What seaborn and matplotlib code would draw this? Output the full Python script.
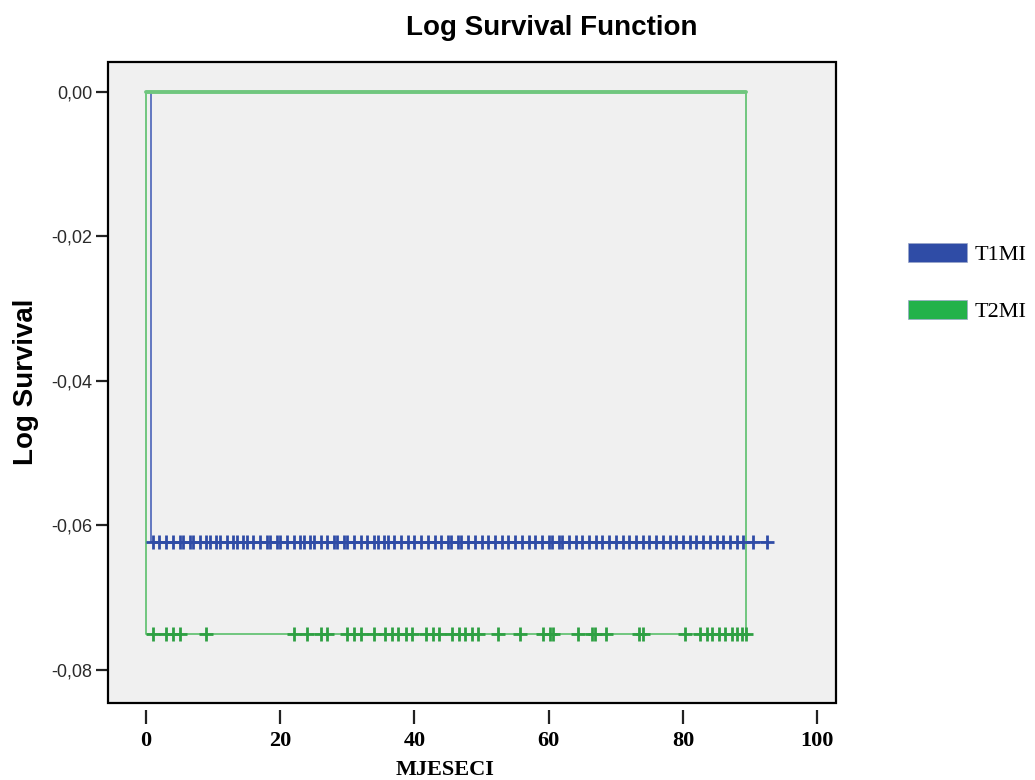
import matplotlib
matplotlib.use("Agg")
import matplotlib.pyplot as plt
from matplotlib.patches import Patch, Rectangle
import seaborn as sns
import pandas as pd

# survival data
groups = ["T1MI", "T2MI"]
group_colors = ["#2f4ca6", "#23b24a"]
line_colors = ["#4a63b8", "#70c67e"]
mark_colors = ["#2f4ca6", "#2ea043"]

t1_drop_time = 0.8
t1_log_surv = -0.0623
t1_censored = [1, 2, 3, 4, 5, 5.5, 6.5, 7, 8, 9, 9.5, 10.5, 11, 12, 13, 13.5,
               14.5, 15, 16, 17, 18, 18.5, 19.5, 20, 21, 22, 23, 23.5, 24.5,
               25, 26, 27, 28, 28.5, 29.5, 30, 31, 32, 33, 34, 34.5, 35.5, 36,
               37, 38, 39, 40, 41, 42, 43, 44, 45, 45.5, 46.5, 47, 48, 49, 50,
               51, 52, 53, 54, 55, 56, 57, 58, 59, 60, 60.5, 61.5, 62, 63, 64,
               65, 66, 67, 68, 69, 70, 71, 72, 73, 74, 75, 76, 77, 78, 79, 80,
               81, 82, 83, 84, 85, 86, 87, 88, 89, 90.5, 92.5]

t2_log_surv = -0.075
t2_end_time = 89.4
t2_censored = [1, 3, 4, 5, 9, 22, 24, 26, 27, 30, 31, 32, 34, 35.6, 36.7, 37.6,
               38.7, 39.7, 41.7, 42.7, 43.6, 45.6, 46.6, 47.6, 48.5, 49.5, 52.5,
               55.7, 59.2, 60.2, 60.7, 64.4, 66.4, 66.9, 68.6, 73.4, 74, 80.3,
               82.6, 83.6, 84.3, 85.3, 86.3, 87.3, 88, 88.8, 89.4]

x_ticks = [0, 20, 40, 60, 80, 100]
y_ticks = [0.0, -0.02, -0.04, -0.06, -0.08]
y_tick_labels = ["0,00", "-0,02", "-0,04", "-0,06", "-0,08"]

sns.set_style("white")
plt.rcParams["font.family"] = ["Liberation Sans", "DejaVu Sans"]
plt.rcParams["text.color"] = "black"

fig = plt.figure(figsize=(10.35, 7.8), dpi=100)
ax = fig.add_axes([108 / 1035, 1 - 703 / 780, 728 / 1035, 641 / 780])
ax.set_facecolor("#f0f0f0")

# T1MI step line
t1_path = pd.DataFrame({
    "x": [0, t1_drop_time, t1_drop_time, t1_censored[-1]],
    "y": [0, 0, t1_log_surv, t1_log_surv],
})
sns.lineplot(data=t1_path, x="x", y="y", sort=False, estimator=None,
             color=line_colors[0], linewidth=1.2, ax=ax)

# T2MI lines
t2_left = pd.DataFrame({
    "x": [0, 0, t2_end_time],
    "y": [0, t2_log_surv, t2_log_surv],
})
sns.lineplot(data=t2_left, x="x", y="y", sort=False, estimator=None,
             color=line_colors[1], linewidth=1.4, ax=ax)
t2_top = pd.DataFrame({"x": [0, t2_end_time], "y": [0, 0]})
sns.lineplot(data=t2_top, x="x", y="y", sort=False, estimator=None,
             color=line_colors[1], linewidth=2.8, ax=ax)
t2_right = pd.DataFrame({"x": [t2_end_time, t2_end_time], "y": [0, t2_log_surv]})
sns.lineplot(data=t2_right, x="x", y="y", sort=False, estimator=None,
             color=line_colors[1], linewidth=1.4, ax=ax)

# censored marks
sns.scatterplot(x=t1_censored, y=[t1_log_surv] * len(t1_censored), marker="+",
                s=100, linewidth=2.0, color=mark_colors[0], ax=ax, zorder=3)
sns.scatterplot(x=t2_censored, y=[t2_log_surv] * len(t2_censored), marker="+",
                s=100, linewidth=2.0, color=mark_colors[1], ax=ax, zorder=3)

ax.set_xlim(-5.66, 102.8)
ax.set_ylim(-0.08457, 0.00415)
ax.set_xlabel("")
ax.set_ylabel("")

for s in ax.spines.values():
    s.set_visible(False)
ax.add_patch(Rectangle((0, 0), 1, 1, transform=ax.transAxes, fill=False,
                       edgecolor="black", linewidth=1.6, clip_on=False, zorder=5))
ax.spines["bottom"].set_position(("outward", 5))

ax.set_xticks(x_ticks)
ax.set_xticklabels([str(v) for v in x_ticks], family=["Liberation Serif"],
                   fontweight="bold", fontsize=16, color="black")
ax.set_yticks(y_ticks)
ax.set_yticklabels(y_tick_labels, fontsize=13, color="#2a2a2a")
ax.tick_params(axis="x", bottom=True, length=10, width=1.6, color="#222222", pad=5)
ax.tick_params(axis="y", left=True, length=9, width=1.6, color="#222222", pad=2)

fig.text(552 / 1035, 1 - 28 / 780, "Log Survival Function", ha="center",
         va="center", fontsize=20, fontweight="bold", color="black")
fig.text(26 / 1035, 1 - 382 / 780, "Log Survival", rotation=90, ha="center",
         va="center", fontsize=20, fontweight="bold", color="black")
fig.text(445 / 1035, 1 - 770 / 780, "MJESECI", ha="center", va="center",
         fontsize=16, fontweight="bold", family=["Liberation Serif"], color="black")

handles = [Patch(facecolor=c, edgecolor="#9aa6c8", linewidth=0.5) for c in group_colors]
fig.legend(handles, groups, loc="center left", bbox_to_anchor=(908 / 1035, 1 - 282.5 / 780),
           frameon=False, borderpad=0, borderaxespad=0, handlelength=2.65,
           handleheight=0.95, handletextpad=0.36, labelspacing=1.55,
           prop={"family": "Liberation Serif", "size": 16})

fig.savefig("out.png", dpi=100)
plt.close(fig)
